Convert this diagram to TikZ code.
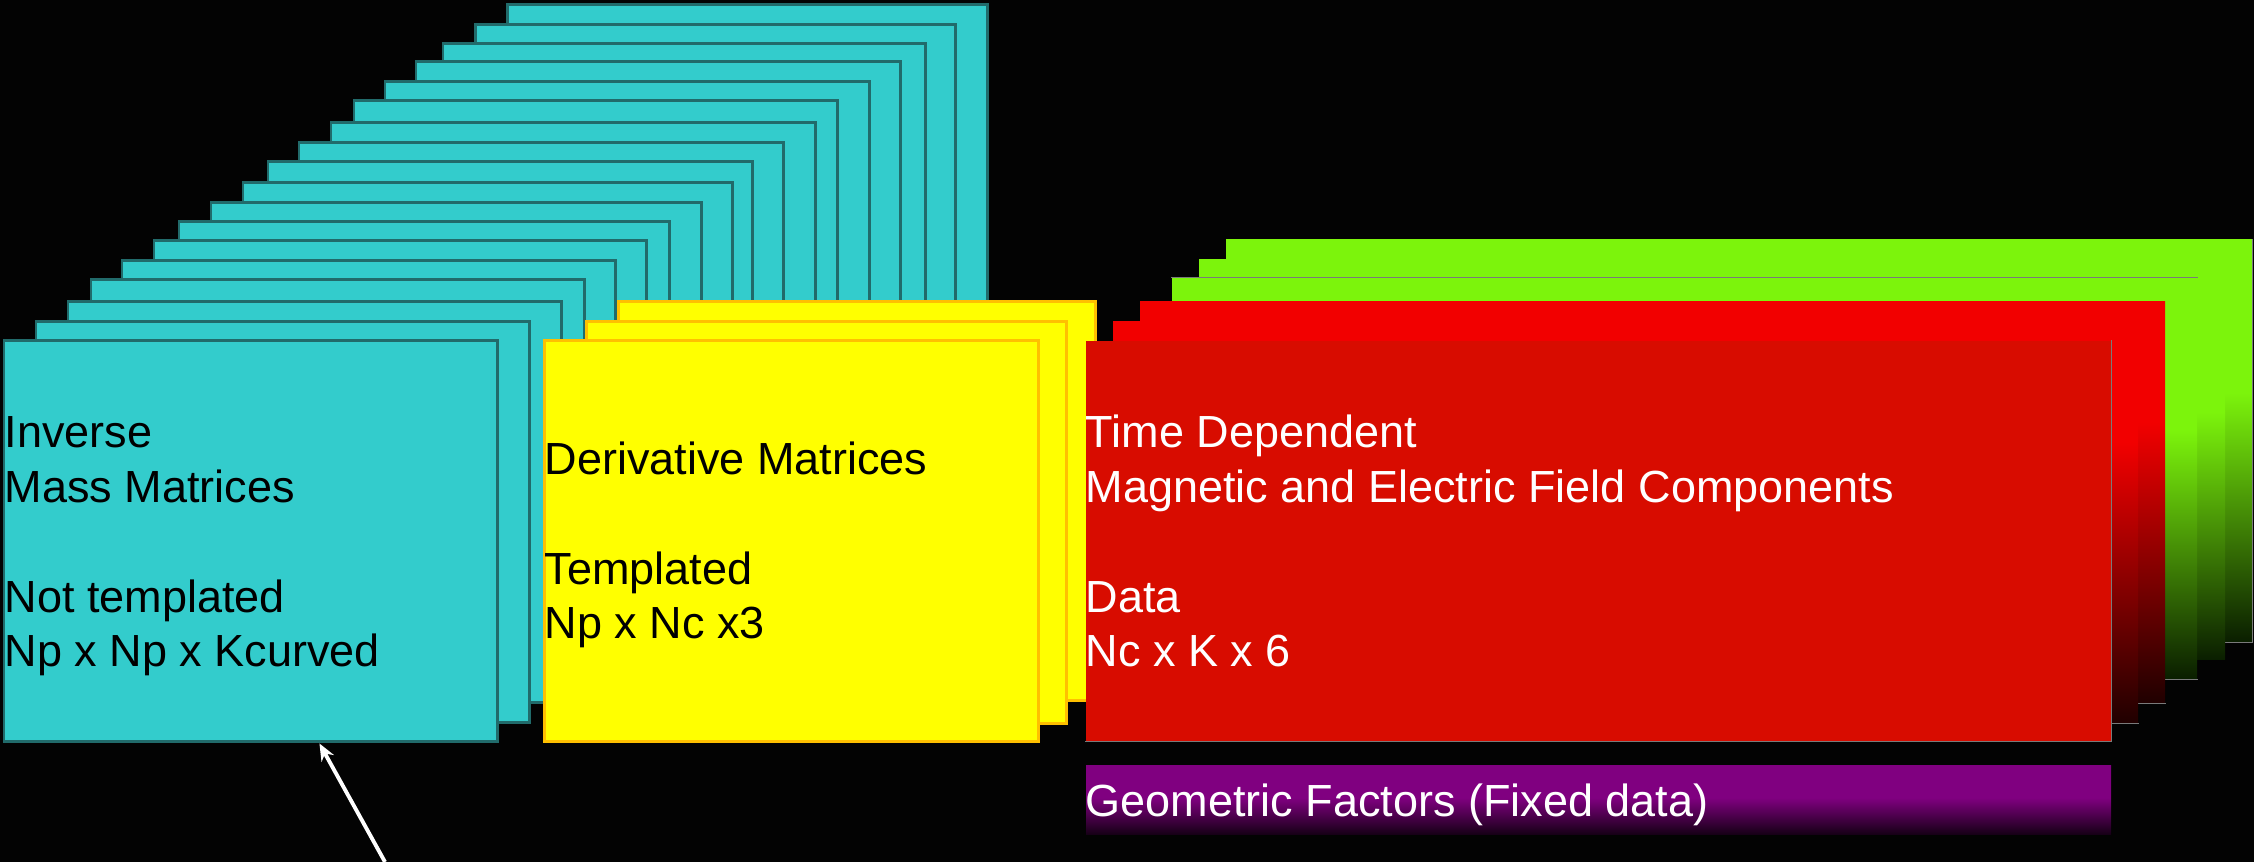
\documentclass[tikz,border=0pt]{standalone}
\usepackage{fontspec}
\setmainfont{Liberation Sans}
\usetikzlibrary{fit,calc,arrows.meta}
\definecolor{tealfill}{HTML}{33CCCC}
\definecolor{tealline}{HTML}{216B6B}
\definecolor{yelfill}{HTML}{FFFF00}
\definecolor{yelline}{HTML}{FFC000}
\definecolor{redfront}{HTML}{D80C00}
\definecolor{redtop}{HTML}{F20000}
\definecolor{redbot}{HTML}{200000}
\definecolor{greentop}{HTML}{7CF40C}
\definecolor{greenbot}{HTML}{0A1E00}
\definecolor{purptop}{HTML}{800080}
\definecolor{purpbot}{HTML}{140014}
\definecolor{bgcol}{HTML}{030303}
\definecolor{edgegray}{HTML}{7A7A7A}
\pgfdeclareverticalshading{redfade}{100bp}{color(0bp)=(redbot); color(25bp)=(redbot); color(60bp)=(redtop); color(100bp)=(redtop)}
\pgfdeclareverticalshading{greenfade}{100bp}{color(0bp)=(greenbot); color(25bp)=(greenbot); color(56bp)=(greentop); color(100bp)=(greentop)}
\pgfdeclareverticalshading{purpfade}{100bp}{color(0bp)=(purpbot); color(25bp)=(purpbot); color(52bp)=(purptop); color(100bp)=(purptop)}
\tikzset{
  tealbox/.style={draw=tealline, line width=0.85pt, fill=tealfill, inner sep=0pt},
  yelbox/.style={draw=yelline, line width=0.85pt, fill=yelfill, inner sep=0pt},
  redback/.style={shade, shading=redfade, inner sep=0pt},
  redfrontbox/.style={fill=redfront, inner sep=0pt},
  greenbox/.style={shade, shading=greenfade, inner sep=0pt},
  purpbox/.style={shade, shading=purpfade, inner sep=0pt},
  grayedge/.style={draw=edgegray, line width=0.35pt},
  lbl/.style={anchor=base west, align=left, inner sep=0pt, font=\fontsize{12.8}{15.6}\selectfont},
  pointer/.style={white, line width=1.1pt, -{Stealth[length=0.17cm,width=0.14cm]}}
}
\begin{document}
\begin{tikzpicture}[x=0.01cm,y=-0.01cm]
\fill[bgcol] (0,0) rectangle (2254,862);
\useasboundingbox (0,0) rectangle (2254,862);
% teal stack, back to front
\foreach \i/\l/\t/\r in {1/507/5/987, 2/475/25/955, 3/443/44/925, 4/416/62/900,
  5/385/82/869, 6/354/101/837, 7/331/123/815, 8/299/143/783, 9/268/162/752,
  10/243/183/732, 11/211/203/701, 12/179/222/669, 13/154/241/646, 14/122/261/615,
  15/91/280/584, 16/68/302/561, 17/36/322/529, 18/4/341/497}
  {\node[tealbox, fit={(\l,\t) (\r,\t+401)}] (t\i) {};}
% yellow stack
\node[yelbox, fit={(618,302) (1095,701)}] (y3) {};
\node[yelbox, fit={(586,322) (1066,724)}] (y2) {};
\node[yelbox, fit={(544,341) (1038,742)}] (y1) {};
% green stack
\node[greenbox, fit={(1226,240) (2252,642)}] (g3) {};
\draw[grayedge] (g3.north east) -- (g3.south east) -- (g3.south west);
\node[greenbox, fit={(1199,260) (2225,660)}] (g2) {};
\node[greenbox, fit={(1172,278) (2197,679)}] (g1) {};
\draw[grayedge] (g1.north west) -- (g1.north east);
\draw[grayedge] (g1.south east) -- (g1.south west);
% red stack
\node[redback, fit={(1140,302) (2165,703)}] (r3) {};
\draw[grayedge] (r3.south east) -- (r3.south west);
\node[redback, fit={(1113,322) (2138,723)}] (r2) {};
\draw[grayedge] (r2.south east) -- (r2.south west);
\node[redfrontbox, fit={(1086,341) (2111,741)}] (r1) {};
\draw[grayedge] (r1.north east) -- (r1.south east) -- (r1.south west);
% purple bar
\node[purpbox, fit={(1086,766) (2111,835)}] (pb) {};
% texts (anchored at the baseline of their last line)
\node[lbl, text=black] (tealtxt) at (4,667) {Inverse\\Mass Matrices\\[15.6pt]Not templated\\Np x Np x Kcurved};
\node[lbl, text=black] (yeltxt) at (544,639) {Derivative Matrices\\[15.6pt]Templated\\Np x Nc x3};
\node[lbl, text=white] (redtxt) at (1085,667) {Time Dependent\\Magnetic and Electric Field Components\\[15.6pt]Data\\Nc x K x 6};
\node[lbl, text=white] (purptxt) at (1085,817) {Geometric Factors (Fixed data)};
% arrow
\coordinate (arrtail) at (385,862);
\draw[pointer] (arrtail) -- ($(t18.south west)!0.639!(t18.south east)$);
\end{tikzpicture}
\end{document}
